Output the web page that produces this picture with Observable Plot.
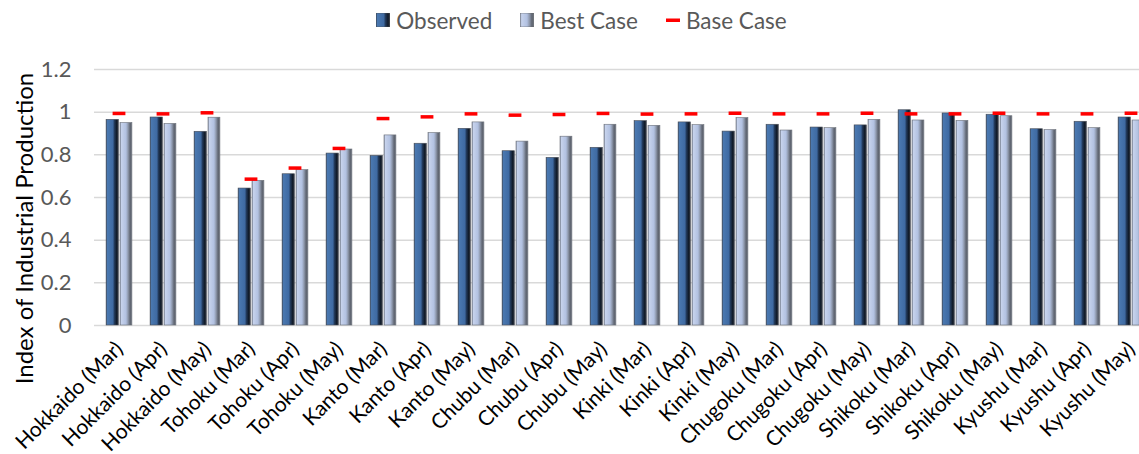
<!DOCTYPE html>
<html>
<head>
<meta charset="utf-8">
<script src="https://cdn.jsdelivr.net/npm/d3@7"></script>
<script src="https://cdn.jsdelivr.net/npm/@observablehq/plot@0.6"></script>
<style>
  body { margin: 0; background: #fff; font-family: Lato, "Open Sans", sans-serif; }
  #legend { height: 40px; display: flex; justify-content: center; align-items: center; font-size: 22.5px; color: #595959; padding-left: 24px; }
  .item { display: flex; align-items: center; margin: 0 14px; }
  .item svg { margin-right: 6px; }
  #defs { position: absolute; width: 0; height: 0; }
</style>
</head>
<body>
<svg id="defs" aria-hidden="true">
  <defs>
    <linearGradient id="obsGrad" x1="0" x2="1" y1="0" y2="0">
      <stop offset="0" stop-color="#2a4466"/>
      <stop offset="0.1" stop-color="#4a78b0"/>
      <stop offset="0.55" stop-color="#3f6aa2"/>
      <stop offset="0.68" stop-color="#22395a"/>
      <stop offset="0.86" stop-color="#101a28"/>
      <stop offset="1" stop-color="#3a3f48"/>
    </linearGradient>
    <linearGradient id="bestGrad" x1="0" x2="1" y1="0" y2="0">
      <stop offset="0" stop-color="#8a93a6"/>
      <stop offset="0.12" stop-color="#c6d2ec"/>
      <stop offset="0.5" stop-color="#b2c1e1"/>
      <stop offset="0.68" stop-color="#8e98ac"/>
      <stop offset="0.86" stop-color="#5c626e"/>
      <stop offset="1" stop-color="#7a808a"/>
    </linearGradient>
  </defs>
</svg>
<div id="legend">
  <div class="item"><svg width="14" height="14"><rect width="14" height="14" fill="url(#obsGrad)" stroke="#555" stroke-width="0.6"/></svg><span>Observed</span></div>
  <div class="item"><svg width="14" height="14"><rect width="14" height="14" fill="url(#bestGrad)" stroke="#666" stroke-width="0.6"/></svg><span>Best Case</span></div>
  <div class="item"><svg width="14" height="14"><rect y="5.5" width="14" height="3.5" fill="#ff0000"/></svg><span>Base Case</span></div>
</div>
<div id="chart"></div>
<script>
// Regions by month
const regions = [
  "Hokkaido (Mar)", "Hokkaido (Apr)", "Hokkaido (May)",
  "Tohoku (Mar)", "Tohoku (Apr)", "Tohoku (May)",
  "Kanto (Mar)", "Kanto (Apr)", "Kanto (May)",
  "Chubu (Mar)", "Chubu (Apr)", "Chubu (May)",
  "Kinki (Mar)", "Kinki (Apr)", "Kinki (May)",
  "Chugoku (Mar)", "Chugoku (Apr)", "Chugoku (May)",
  "Shikoku (Mar)", "Shikoku (Apr)", "Shikoku (May)",
  "Kyushu (Mar)", "Kyushu (Apr)", "Kyushu (May)"
];
const observed = [
  0.964, 0.975, 0.908,
  0.642, 0.709, 0.806,
  0.795, 0.852, 0.922,
  0.817, 0.786, 0.833,
  0.958, 0.952, 0.909,
  0.941, 0.928, 0.938,
  1.009, 0.994, 0.988,
  0.920, 0.955, 0.975
];
const bestCase = [
  0.949, 0.945, 0.974,
  0.678, 0.728, 0.825,
  0.891, 0.902, 0.952,
  0.862, 0.885, 0.941,
  0.936, 0.939, 0.972,
  0.914, 0.925, 0.964,
  0.961, 0.959, 0.981,
  0.916, 0.925, 0.961
];
const baseCase = [
  0.994, 0.992, 0.997,
  0.686, 0.738, 0.830,
  0.970, 0.978, 0.992,
  0.986, 0.989, 0.994,
  0.991, 0.992, 0.995,
  0.992, 0.992, 0.995,
  0.992, 0.992, 0.995,
  0.992, 0.992, 0.995
];
const yTicks = [0, 0.2, 0.4, 0.6, 0.8, 1, 1.2];
const yTickLabels = ["0", "0.2", "0.4", "0.6", "0.8", "1", "1.2"];
const yTitle = "Index of Industrial Production";

const rows = regions.map((region, i) => ({
  region, observed: observed[i], best: bestCase[i], base: baseCase[i]
}));

const chart = Plot.plot({
  width: 1139,
  height: 414,
  marginTop: 29,
  marginBottom: 129,
  marginLeft: 94,
  marginRight: -16,
  style: { fontFamily: "Lato, 'Open Sans', sans-serif", background: "#fff", overflow: "hidden" },
  x: { domain: regions, padding: 0 },
  y: { domain: [0, 1.2] },
  marks: [
    Plot.ruleY(yTicks, { stroke: "#d9d9d9", strokeWidth: 1.5 }),
    Plot.barY(rows, {
      x: "region", y: "observed", fill: "url(#obsGrad)",
      stroke: "#4a4f58", strokeWidth: 0.6, insetLeft: 9.1, insetRight: 22.6
    }),
    Plot.barY(rows, {
      x: "region", y: "best", fill: "url(#bestGrad)",
      stroke: "#6a6f78", strokeWidth: 0.6, insetLeft: 23, insetRight: 9.1
    }),
    Plot.tickY(rows, {
      x: "region", y: "base", stroke: "#ff0000", strokeWidth: 3.5,
      insetLeft: 15.6, insetRight: 15.6
    }),
    Plot.axisY(yTicks, {
      tickSize: 0, tickPadding: 23, fontSize: 22, fill: "#595959",
      tickFormat: (d, i) => yTickLabels[i], label: null
    }),
    Plot.axisX({
      tickSize: 0, tickPadding: 20, tickRotate: -45, fontSize: 21,
      fill: "#000", label: null
    }),
    Plot.text([yTitle], {
      frameAnchor: "left", text: d => d, rotate: -90, textAnchor: "middle",
      dx: -69, dy: 31, fontSize: 24, fill: "#000"
    })
  ]
});
document.getElementById("chart").append(chart);
</script>
</body>
</html>
